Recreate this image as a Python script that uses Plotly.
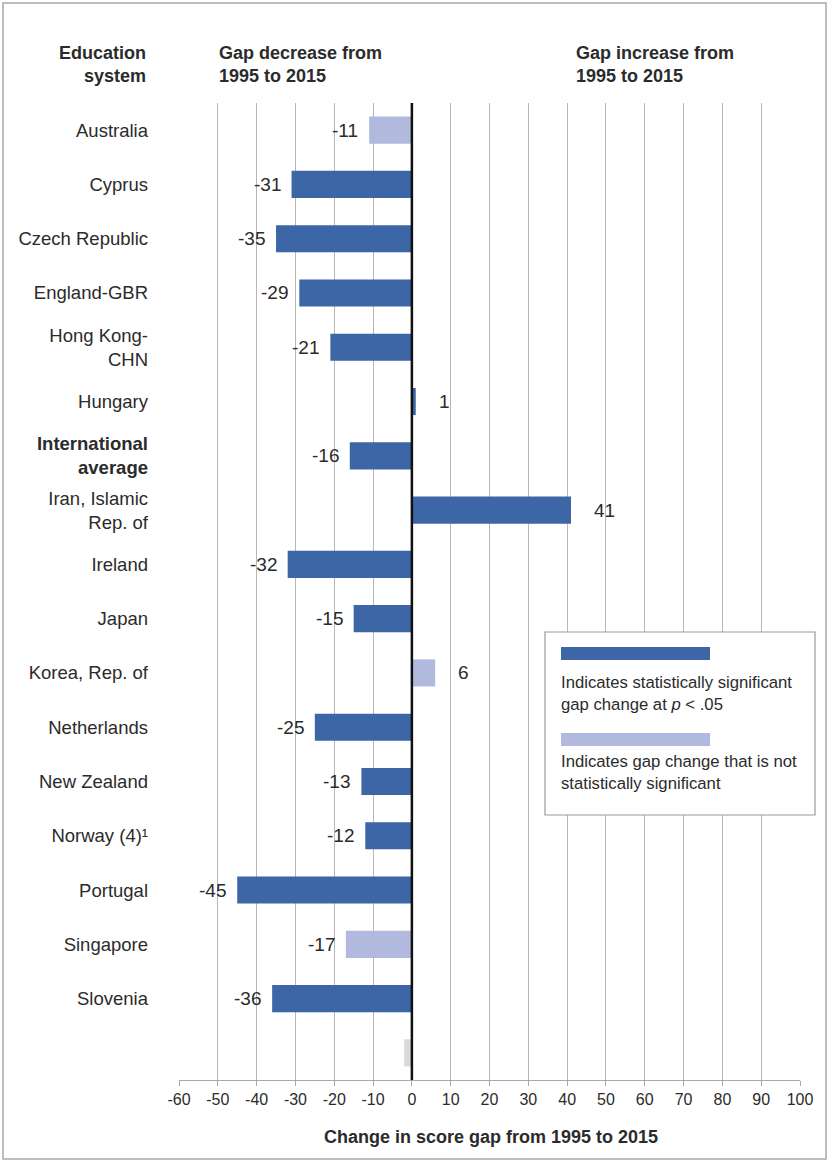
import plotly.graph_objects as go

# ---- data ----
categories = [
    "Australia", "Cyprus", "Czech Republic", "England-GBR", "Hong Kong-<br>CHN",
    "Hungary", "<b>International<br>average</b>", "Iran, Islamic<br>Rep. of", "Ireland",
    "Japan", "Korea, Rep. of", "Netherlands", "New Zealand", "Norway (4)\u00b9",
    "Portugal", "Singapore", "Slovenia", " ",
]
values = [-11, -31, -35, -29, -21, 1, -16, 41, -32, -15, 6, -25, -13, -12, -45, -17, -36, -2]
significance = ["ns", "sig", "sig", "sig", "sig", "sig", "sig", "sig", "sig", "sig", "ns",
                "sig", "sig", "sig", "sig", "ns", "sig", "blank"]
show_label = [True] * 17 + [False]
x_ticks = list(range(-60, 101, 10))

# ---- styling ----
DARK = "#3c66a6"
LIGHT = "#b2b9de"
BLANK = "#d9d9d9"
color_map = {"sig": DARK, "ns": LIGHT, "blank": BLANK}
FONT = "Liberation Sans, Arial, sans-serif"
TXT = "#2b2b2b"

W, H = 830, 1162
L, R, T, B = 179, 30, 103, 82
PW = W - L - R
PH = H - T - B


def px(x):
    return (x - L) / PW


def py(y):
    return (H - B - y) / PH


ids = list(range(len(categories)))

fig = go.Figure()
fig.add_trace(go.Bar(
    x=values, y=ids, orientation="h",
    marker=dict(color=[color_map[s] for s in significance], line=dict(width=0)),
    width=0.5, hoverinfo="skip", showlegend=False,
))

annotations = []
for i, (v, show) in enumerate(zip(values, show_label)):
    if not show:
        continue
    annotations.append(dict(
        x=v, y=i, xref="x", yref="y", text=str(v), showarrow=False,
        xanchor="right" if v < 0 else "left", xshift=-9 if v < 0 else 21,
        font=dict(family=FONT, size=19, color=TXT),
    ))

# headers
annotations += [
    dict(x=px(148), y=py(64), xref="paper", yref="paper", xanchor="right", yanchor="middle",
         text="<b>Education<br>system</b>", align="right", showarrow=False,
         font=dict(family=FONT, size=18, color=TXT)),
    dict(x=px(217), y=py(64), xref="paper", yref="paper", xanchor="left", yanchor="middle",
         text="<b>Gap decrease from<br>1995 to 2015</b>", align="left", showarrow=False,
         font=dict(family=FONT, size=18, color=TXT)),
    dict(x=px(574), y=py(64), xref="paper", yref="paper", xanchor="left", yanchor="middle",
         text="<b>Gap increase from<br>1995 to 2015</b>", align="left", showarrow=False,
         font=dict(family=FONT, size=18, color=TXT)),
    dict(x=px(491), y=py(1137), xref="paper", yref="paper", xanchor="center", yanchor="middle",
         text="<b>Change in score gap from 1995 to 2015</b>", showarrow=False,
         font=dict(family=FONT, size=18, color=TXT)),
    # legend texts
    dict(x=px(559), y=py(693), xref="paper", yref="paper", xanchor="left", yanchor="middle",
         text="Indicates statistically significant<br>gap change at <i>p</i> &lt; .05", align="left",
         showarrow=False, font=dict(family=FONT, size=16.7, color=TXT)),
    dict(x=px(559), y=py(772), xref="paper", yref="paper", xanchor="left", yanchor="middle",
         text="Indicates gap change that is not<br>statistically significant", align="left",
         showarrow=False, font=dict(family=FONT, size=16.7, color=TXT)),
]

shapes = [
    # outer border
    dict(type="rect", xref="paper", yref="paper", x0=px(3), x1=px(826), y0=py(1159), y1=py(3),
         line=dict(color="#a8a8a8", width=1.5), fillcolor="rgba(0,0,0,0)", layer="below"),
    # legend box
    dict(type="rect", xref="paper", yref="paper", x0=px(545), x1=px(815), y0=py(815), y1=py(632),
         line=dict(color="#9a9a9a", width=1.2), fillcolor="white", layer="above"),
    dict(type="rect", xref="paper", yref="paper", x0=px(561), x1=px(710), y0=py(660), y1=py(647),
         line=dict(width=0), fillcolor=DARK, layer="above"),
    dict(type="rect", xref="paper", yref="paper", x0=px(561), x1=px(710), y0=py(746), y1=py(733),
         line=dict(width=0), fillcolor=LIGHT, layer="above"),
    # zero line (drawn above bars)
    dict(type="line", xref="x", yref="paper", x0=0, x1=0, y0=0, y1=1,
         line=dict(color="#111111", width=2.5), layer="above"),
]

fig.update_layout(
    width=W, height=H,
    margin=dict(l=L, r=R, t=T, b=B),
    paper_bgcolor="white", plot_bgcolor="white",
    font=dict(family=FONT, color=TXT),
    annotations=annotations, shapes=shapes,
    xaxis=dict(
        range=[-60, 100], tickvals=x_ticks, ticktext=[str(t) for t in x_ticks],
        showgrid=True, gridcolor="#bdb5b3", gridwidth=1,
        zeroline=False, showline=True, linecolor="#a8a8a8", linewidth=1.2,
        ticks="outside", ticklen=5, tickcolor="#a8a8a8",
        tickfont=dict(family=FONT, size=16, color=TXT),
        fixedrange=True,
    ),
    yaxis=dict(
        tickvals=ids, ticktext=categories, range=[len(categories) - 0.5, -0.5],
        showgrid=False, zeroline=False, showline=False, ticks="",
        tickfont=dict(family=FONT, size=18.5, color=TXT),
        ticklabelstandoff=30,
        fixedrange=True,
    ),
)

fig.write_html(
    "out.html",
    config={"displayModeBar": False},
    post_script="document.body.style.margin='0';document.body.style.padding='0';",
)
